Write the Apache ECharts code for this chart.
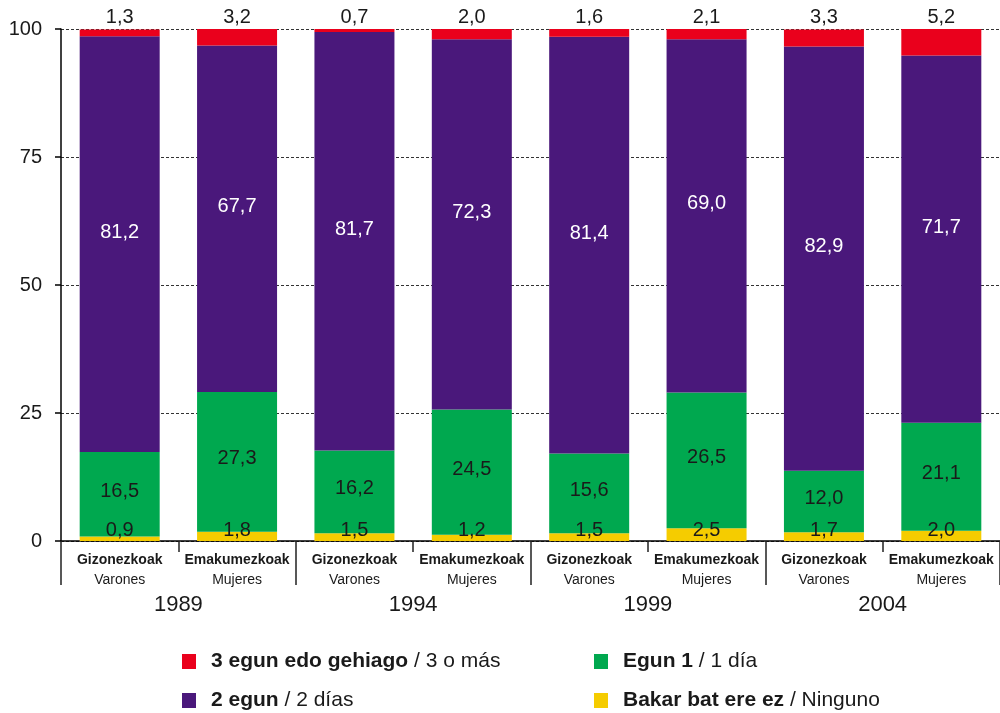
<!DOCTYPE html>
<html style="height: 100%">
<head>
    <meta charset="UTF-8">
    <title>Egunak</title>
    <script src="https://cdn.jsdelivr.net/npm/echarts@6/dist/echarts.min.js"></script>
</head>
<body style="height: 100%; margin: 0">
    <div id="main" style="width: 1000px; height: 713px;"></div>
    <script>
        // kategoriak
        var catEu = ['Gizonezkoak', 'Emakumezkoak', 'Gizonezkoak', 'Emakumezkoak', 'Gizonezkoak', 'Emakumezkoak', 'Gizonezkoak', 'Emakumezkoak'];
        var catEs = ['Varones', 'Mujeres', 'Varones', 'Mujeres', 'Varones', 'Mujeres', 'Varones', 'Mujeres'];
        var years = ['1989', '1994', '1999', '2004'];
        var yTicks = [0, 25, 50, 75, 100];

        // serieak (%)
        var ninguno = [0.9, 1.8, 1.5, 1.2, 1.5, 2.5, 1.7, 2.0];
        var unDia = [16.5, 27.3, 16.2, 24.5, 15.6, 26.5, 12.0, 21.1];
        var dosDias = [81.2, 67.7, 81.7, 72.3, 81.4, 69.0, 82.9, 71.7];
        var tresMas = [1.3, 3.2, 0.7, 2.0, 1.6, 2.1, 3.3, 5.2];

        var legendEu = {
            tres: '3 egun edo gehiago', dos: '2 egun', uno: 'Egun 1', ninguno: 'Bakar bat ere ez'
        };
        var legendEs = {
            tres: '3 o más', dos: '2 días', uno: '1 día', ninguno: 'Ninguno'
        };

        var myChart = echarts.init(document.getElementById('main'));

        function fmt(p) {
            return p.value.toFixed(1).replace('.', ',');
        }

        var labelFont = { fontFamily: 'Liberation Sans', fontSize: 20 };

        // legenda bat elementu bakoitzeko
        function legendItem(name, left, top) {
            return {
                left: left,
                top: top,
                data: [name],
                icon: 'rect',
                itemWidth: 14,
                itemHeight: 15,
                formatter: function (n) {
                    return '{b|' + legendEu[n] + '} / ' + legendEs[n];
                },
                textStyle: {
                    fontFamily: 'Liberation Sans',
                    fontSize: 21,
                    color: '#1a1a1a',
                    padding: [0, 0, 0, 10],
                    rich: {
                        b: { fontFamily: 'Liberation Sans', fontSize: 21, fontWeight: 'bold', color: '#1a1a1a' }
                    }
                }
            };
        }

        var option = {
            animation: false,
            grid: { left: 61, top: 29, width: 947, height: 512 },
            legend: [
                legendItem('tres', 177, 646),
                legendItem('dos', 177, 685),
                legendItem('uno', 589, 646),
                legendItem('ninguno', 589, 685)
            ],
            xAxis: [{
                type: 'category',
                data: catEu.map(function (d, i) { return '{b|' + d + '}\n{n|' + catEs[i] + '}'; }),
                axisLine: { lineStyle: { color: '#000', width: 1.5 } },
                axisTick: { show: true, length: 11, lineStyle: { color: '#222', width: 1.5 } },
                axisLabel: {
                    margin: 9,
                    interval: 0,
                    rich: {
                        b: { fontFamily: 'Liberation Sans', fontSize: 14, fontWeight: 'bold', color: '#1a1a1a', lineHeight: 20 },
                        n: { fontFamily: 'Liberation Sans', fontSize: 14, color: '#1a1a1a', lineHeight: 20 }
                    }
                }
            }, {
                type: 'category',
                position: 'bottom',
                data: years,
                axisLine: { show: true, lineStyle: { color: 'rgba(0,0,0,0)' } },
                axisTick: { show: true, length: 44, lineStyle: { color: '#222', width: 1.5 } },
                axisLabel: { margin: 53, fontFamily: 'Liberation Sans', fontSize: 22, color: '#1a1a1a' }
            }],
            yAxis: {
                type: 'value',
                min: yTicks[0],
                max: yTicks[yTicks.length - 1],
                interval: 25,
                axisLine: { show: true, lineStyle: { color: '#000', width: 1.5 } },
                axisTick: { show: true, length: 6, lineStyle: { color: '#000', width: 1.5 } },
                axisLabel: { margin: 19, fontFamily: 'Liberation Sans', fontSize: 20, color: '#1a1a1a' },
                splitLine: { lineStyle: { type: [3, 2], color: '#333', width: 1 } }
            },
            series: [{
                name: 'ninguno',
                type: 'bar',
                stack: 'a',
                barWidth: 80,
                data: ninguno,
                itemStyle: { color: '#F5CC00' },
                label: Object.assign({ show: true, position: 'insideBottom', distance: 1, color: '#1a1a1a', formatter: fmt }, labelFont)
            }, {
                name: 'uno',
                type: 'bar',
                stack: 'a',
                data: unDia,
                itemStyle: { color: '#00A84F' },
                label: Object.assign({ show: true, position: 'inside', offset: [0, -3], color: '#1a1a1a', formatter: fmt }, labelFont)
            }, {
                name: 'dos',
                type: 'bar',
                stack: 'a',
                data: dosDias,
                itemStyle: { color: '#4A187B' },
                label: Object.assign({ show: true, position: 'inside', offset: [0, -12], color: '#fff', formatter: fmt }, labelFont)
            }, {
                name: 'tres',
                type: 'bar',
                stack: 'a',
                data: tresMas,
                itemStyle: { color: '#EA001C' },
                label: Object.assign({ show: true, position: 'top', distance: 2, color: '#1a1a1a', formatter: fmt }, labelFont)
            }]
        };

        myChart.setOption(option);
    </script>
</body>
</html>
